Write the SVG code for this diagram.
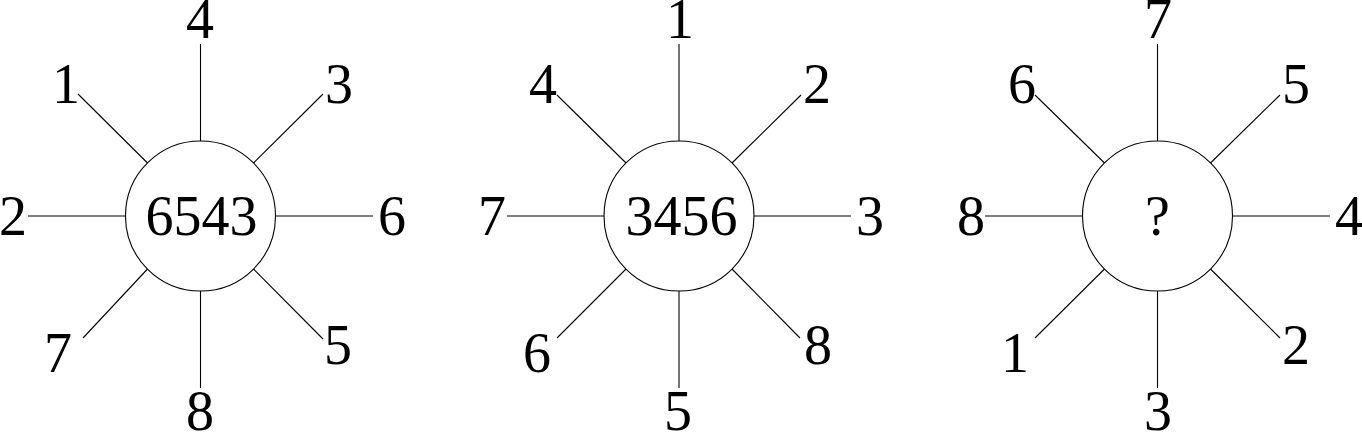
<svg xmlns="http://www.w3.org/2000/svg" width="1362" height="432" viewBox="0 0 1362 432">
<style>
text{font-family:"Liberation Serif","Times New Roman",serif;font-size:56px;fill:#000;text-anchor:middle}
.c{fill:#fff;stroke:#000;stroke-width:1.1}
#connectors line{stroke:#000;stroke-width:1.1}
</style>
<rect width="1362" height="432" fill="#fff"/>
<g id="connectors">
<line x1="200.5" y1="44" x2="200.5" y2="141"/>
<line x1="200.5" y1="291" x2="200.5" y2="388"/>
<line x1="28" y1="216" x2="125.5" y2="216"/>
<line x1="275.5" y1="216" x2="373" y2="216"/>
<line x1="78" y1="94" x2="147.5" y2="163"/>
<line x1="323" y1="94" x2="253.5" y2="163"/>
<line x1="83" y1="338" x2="147.5" y2="269"/>
<line x1="323" y1="339" x2="253.5" y2="269"/>

<line x1="679" y1="44" x2="679" y2="141"/>
<line x1="679" y1="291" x2="679" y2="388"/>
<line x1="507" y1="216" x2="604" y2="216"/>
<line x1="754" y1="216" x2="851" y2="216"/>
<line x1="557" y1="95" x2="626" y2="163"/>
<line x1="801" y1="95" x2="732" y2="163"/>
<line x1="557" y1="338" x2="626" y2="269"/>
<line x1="800" y1="338" x2="732" y2="269"/>

<line x1="1157.5" y1="44" x2="1157.5" y2="141"/>
<line x1="1157.5" y1="291" x2="1157.5" y2="388"/>
<line x1="985" y1="216" x2="1082.5" y2="216"/>
<line x1="1232.5" y1="216" x2="1330" y2="216"/>
<line x1="1035" y1="95" x2="1104.5" y2="163"/>
<line x1="1280" y1="95" x2="1210.5" y2="163"/>
<line x1="1035" y1="338" x2="1104.5" y2="269"/>
<line x1="1280" y1="338" x2="1210.5" y2="269"/>
</g>
<g id="hub1"><circle class="c" cx="200.5" cy="216" r="75"/><text x="201.5" y="235">6543</text></g>
<g id="hub2"><circle class="c" cx="679" cy="216" r="75"/><text x="681.5" y="235">3456</text></g>
<g id="hub3"><circle class="c" cx="1157.5" cy="216" r="75"/><text x="1157.5" y="235">?</text></g>
<g id="labels1">
<text x="200" y="38">4</text>
<text x="66" y="103">1</text>
<text x="339" y="103">3</text>
<text x="13" y="235">2</text>
<text x="392" y="235">6</text>
<text x="58" y="372">7</text>
<text x="338" y="364">5</text>
<text x="200" y="430">8</text>
</g>
<g id="labels2">
<text x="680" y="38">1</text>
<text x="543" y="103">4</text>
<text x="817" y="103">2</text>
<text x="492" y="235">7</text>
<text x="870" y="235">3</text>
<text x="537" y="372">6</text>
<text x="818" y="364">8</text>
<text x="678" y="430">5</text>
</g>
<g id="labels3">
<text x="1158" y="38">7</text>
<text x="1022" y="103">6</text>
<text x="1296" y="103">5</text>
<text x="971" y="235">8</text>
<text x="1349" y="235">4</text>
<text x="1015" y="372">1</text>
<text x="1296" y="364">2</text>
<text x="1158" y="430">3</text>
</g>
</svg>
